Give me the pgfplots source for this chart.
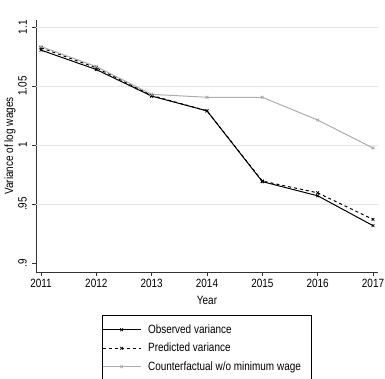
\documentclass[border=0pt]{standalone}
\usepackage{fontspec}
\setmainfont{Liberation Sans}[FakeStretch=0.83]
\usepackage{pgfplots}
\pgfplotsset{compat=1.18}
\definecolor{cfgray}{gray}{0.68}
\definecolor{gridgray}{gray}{0.9}
\begin{document}
\fontsize{12}{14}\selectfont
\begin{tikzpicture}
\begin{axis}[
  scale only axis,
  width=342pt, height=252pt,
  xmin=2010.91, xmax=2017.09,
  ymin=0.8924, ymax=1.106,
  axis x line*=bottom, axis y line*=left,
  axis line style={black!80, line width=0.9pt, -},
  xtick={2011,2012,2013,2014,2015,2016,2017},
  xticklabels={2011,2012,2013,2014,2015,2016,2017},
  ytick={0.9,0.95,1,1.05,1.1},
  yticklabels={.9,.95,1,1.05,1.1},
  extra y ticks={0.95,1,1.05,1.1},
  extra y tick labels={},
  extra y tick style={ymajorgrids=true, major tick length=0pt},
  grid style={gridgray, line width=0.8pt},
  tick align=outside,
  major tick length=4pt,
  tick style={black!80, line width=0.8pt},
  /pgf/number format/assume math mode=true,
  yticklabel style={rotate=90, anchor=south, inner sep=1pt, yshift=4pt},
  xticklabel style={inner sep=1pt, yshift=-2pt},
  ticklabel style={font=\fontsize{12}{14}\selectfont},
  label style={font=\fontsize{12}{14}\selectfont},
  xlabel={Year},
  xlabel style={at={(axis description cs:0.5,-0.1115)}, anchor=center, inner sep=1pt},
  ylabel={Variance of log wages},
  ylabel style={at={(axis description cs:-0.076,0.5)}, anchor=center, inner sep=1pt},
  legend style={at={(0.5,-0.171)}, anchor=north,
    draw=black, line width=0.8pt, font=\fontsize{12}{14}\selectfont,
    legend cell align=left, inner xsep=0pt, inner ysep=7pt, row sep=4pt,
    /tikz/every odd column/.style={column sep=5pt}},
  legend image code/.code={\draw[#1, mark repeat=2, mark phase=2] plot coordinates {(0pt,0pt)(19pt,0pt)(38pt,0pt)};},
  mark size=2pt,
]
\addplot[black, line width=1pt, mark=x, mark options={solid, line width=0.8pt}] coordinates {
(2011,1.0805) (2012,1.064) (2013,1.0415) (2014,1.029) (2015,0.969) (2016,0.957) (2017,0.9317)};
\addlegendentry{Observed variance}
\addplot[black, line width=1pt, dashed, mark=x, mark options={solid, line width=0.8pt}] coordinates {
(2011,1.0825) (2012,1.0655) (2013,1.042) (2014,1.029) (2015,0.9695) (2016,0.9595) (2017,0.937)};
\addlegendentry{Predicted variance}
\addplot[cfgray, line width=1pt, mark=x, mark options={solid, line width=0.8pt}] coordinates {
(2011,1.0835) (2012,1.0665) (2013,1.043) (2014,1.0405) (2015,1.0405) (2016,1.0212) (2017,0.9975)};
\addlegendentry{Counterfactual w/o minimum wage\hspace*{9pt}}
\end{axis}
\pgfresetboundingbox
\useasboundingbox (-36pt,-106pt) rectangle (349pt,272pt);
\end{tikzpicture}
\end{document}
